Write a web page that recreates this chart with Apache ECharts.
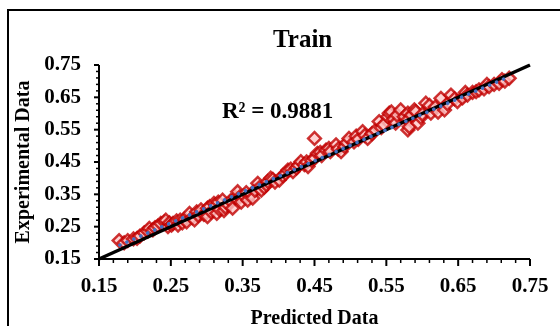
<!DOCTYPE html>
<html>
<head>
<meta charset="utf-8">
<script src="https://cdn.jsdelivr.net/npm/echarts@6/dist/echarts.min.js"></script>
<style>
  html, body { margin: 0; padding: 0; background: #fff; overflow: hidden; }
  #wrap { position: relative; width: 560px; height: 326px; overflow: hidden; }
  #chart { position: absolute; left: 0; top: 0; width: 560px; height: 326px; }
  #frame { position: absolute; left: 7px; top: 9px; width: 700px; height: 500px;
           border: 2.5px solid #000; pointer-events: none; }
</style>
</head>
<body>
<div id="wrap">
  <div id="chart"></div>
  <div id="frame"></div>
</div>
<script>
// Training set: predicted vs experimental values
const predicted = [
  0.178, 0.185, 0.190, 0.198, 0.203, 0.207, 0.213, 0.218, 0.220, 0.225,
  0.228, 0.232, 0.236, 0.241, 0.243, 0.246, 0.248, 0.251, 0.253, 0.258,
  0.260, 0.263, 0.266, 0.269, 0.272, 0.276, 0.280, 0.283, 0.286, 0.288,
  0.292, 0.296, 0.299, 0.301, 0.301, 0.304, 0.306, 0.310, 0.313, 0.314,
  0.316, 0.318, 0.322, 0.324, 0.326, 0.330, 0.333, 0.336, 0.340, 0.343,
  0.346, 0.348, 0.352, 0.355, 0.357, 0.362, 0.364, 0.367, 0.371, 0.373,
  0.376, 0.380, 0.383, 0.385, 0.389, 0.392, 0.395, 0.401, 0.406, 0.410,
  0.413, 0.417, 0.420, 0.425, 0.428, 0.431, 0.436, 0.439, 0.441, 0.446,
  0.450, 0.450, 0.454, 0.458, 0.460, 0.466, 0.470, 0.472, 0.480, 0.483,
  0.487, 0.492, 0.495, 0.498, 0.505, 0.508, 0.511, 0.517, 0.520, 0.524,
  0.530, 0.535, 0.540, 0.543, 0.546, 0.552, 0.554, 0.557, 0.560, 0.563,
  0.565, 0.570, 0.575, 0.580, 0.580, 0.580, 0.582, 0.585, 0.589, 0.591,
  0.594, 0.598, 0.600, 0.605, 0.610, 0.612, 0.618, 0.622, 0.626, 0.631,
  0.635, 0.640, 0.645, 0.649, 0.656, 0.660, 0.663, 0.670, 0.675, 0.679,
  0.686, 0.690, 0.693, 0.700, 0.707, 0.711, 0.715, 0.721
];
const experimental = [
  0.207, 0.200, 0.207, 0.212, 0.214, 0.221, 0.231, 0.236, 0.245, 0.240,
  0.247, 0.252, 0.260, 0.265, 0.270, 0.250, 0.262, 0.255, 0.260, 0.268,
  0.255, 0.270, 0.262, 0.273, 0.265, 0.291, 0.278, 0.271, 0.296, 0.285,
  0.302, 0.288, 0.292, 0.307, 0.281, 0.312, 0.296, 0.322, 0.317, 0.291,
  0.326, 0.303, 0.332, 0.300, 0.310, 0.318, 0.330, 0.307, 0.340, 0.358,
  0.342, 0.326, 0.345, 0.355, 0.332, 0.350, 0.338, 0.362, 0.384, 0.370,
  0.363, 0.372, 0.380, 0.390, 0.400, 0.396, 0.388, 0.394, 0.408, 0.415,
  0.425, 0.428, 0.420, 0.432, 0.440, 0.451, 0.442, 0.450, 0.436, 0.455,
  0.523, 0.461, 0.477, 0.480, 0.470, 0.487, 0.492, 0.482, 0.503, 0.490,
  0.482, 0.498, 0.510, 0.523, 0.512, 0.530, 0.520, 0.544, 0.532, 0.523,
  0.538, 0.548, 0.575, 0.556, 0.565, 0.590, 0.601, 0.605, 0.582, 0.570,
  0.595, 0.611, 0.590, 0.601, 0.580, 0.549, 0.559, 0.595, 0.611, 0.606,
  0.570, 0.588, 0.598, 0.632, 0.625, 0.601, 0.620, 0.604, 0.647, 0.611,
  0.630, 0.657, 0.645, 0.637, 0.648, 0.665, 0.657, 0.665, 0.668, 0.673,
  0.676, 0.690, 0.683, 0.690, 0.693, 0.705, 0.700, 0.709
];

// Ideal y = x reference line and the fitted linear trend line
const idealX = [0.15, 0.75];
const idealY = [0.15, 0.75];
const trendX = [0.179, 0.720];
const trendY = [0.193, 0.713];

const titleText = 'Train';
const r2Text = 'R² = 0.9881';
const xName = 'Predicted Data';
const yName = 'Experimental Data';
const axisMin = 0.15, axisMax = 0.75, axisStep = 0.1, minorSplits = 5;

const FONT = '"Liberation Serif", "Times New Roman", serif';
const zip = (xs, ys) => xs.map((x, i) => [x, ys[i]]);

function makeAxis(name, nameGap, labelMargin) {
  return {
    type: 'value',
    min: axisMin,
    max: axisMax,
    interval: axisStep,
    name: name,
    nameLocation: 'middle',
    nameGap: nameGap,
    nameTextStyle: { fontFamily: FONT, fontWeight: 'bold', fontSize: 20, color: '#000' },
    // axis line and ticks are stroked below as an overlay
    axisLine: { show: false },
    axisTick: { show: false },
    minorTick: { show: false },
    axisLabel: {
      margin: labelMargin,
      fontFamily: FONT, fontWeight: 'bold', fontSize: 21, color: '#000',
      formatter: v => v.toFixed(2)
    },
    splitLine: { show: false }
  };
}

const chart = echarts.init(document.getElementById('chart'));
chart.setOption({
  animation: false,
  title: [
    {
      text: titleText, left: 273, top: 28, padding: 0,
      textStyle: { fontFamily: FONT, fontWeight: 'bold', fontSize: 25, color: '#000' }
    },
    {
      text: r2Text, left: 222, top: 101, padding: 0,
      textStyle: { fontFamily: FONT, fontWeight: 'bold', fontSize: 23, color: '#000' }
    }
  ],
  grid: { left: 99, right: 30, top: 65, bottom: 67, outerBoundsMode: 'none' },
  xAxis: makeAxis(xName, 50, 17),
  yAxis: makeAxis(yName, 49, 18),
  series: [
    {
      type: 'line',
      data: zip(idealX, idealY),
      symbol: 'none',
      lineStyle: { color: '#000', width: 3.5 }
    },
    {
      type: 'scatter',
      data: zip(predicted, experimental),
      symbol: 'rect',
      symbolSize: 9,
      symbolRotate: 45,
      itemStyle: { color: '#FFC8C8', borderColor: '#C00000', borderWidth: 2.5 }
    },
    {
      type: 'line',
      data: zip(trendX, trendY),
      symbol: 'none',
      lineStyle: { color: '#4472C4', width: 3.6, type: [0.1, 7.5], cap: 'round' }
    }
  ]
});

// Axis lines with major and minor ticks, placed through the chart's own scales
const px = v => chart.convertToPixel({ xAxisIndex: 0 }, v);
const py = v => chart.convertToPixel({ yAxisIndex: 0 }, v);
const xBase = px(axisMin), yBase = py(axisMin);
const stroke = (x1, y1, x2, y2, w) => ({
  type: 'line', z: 100, silent: true,
  shape: { x1, y1, x2, y2 },
  style: { stroke: '#000', lineWidth: w }
});
const marks = [
  stroke(px(axisMin), yBase, px(axisMax), yBase, 2),
  stroke(xBase, py(axisMin), xBase, py(axisMax), 2)
];
const nSteps = Math.round((axisMax - axisMin) / axisStep);
for (let i = 0; i <= nSteps * minorSplits; i++) {
  const v = axisMin + i * axisStep / minorSplits;
  const major = i % minorSplits === 0;
  const tx = px(v), ty = py(v);
  marks.push(stroke(tx, yBase, tx, yBase + (major ? 7 : 4), major ? 2 : 1.5));
  marks.push(stroke(xBase, ty, xBase - (major ? 5 : 3), ty, major ? 2 : 1.5));
}
chart.setOption({ graphic: marks });
</script>
</body>
</html>
